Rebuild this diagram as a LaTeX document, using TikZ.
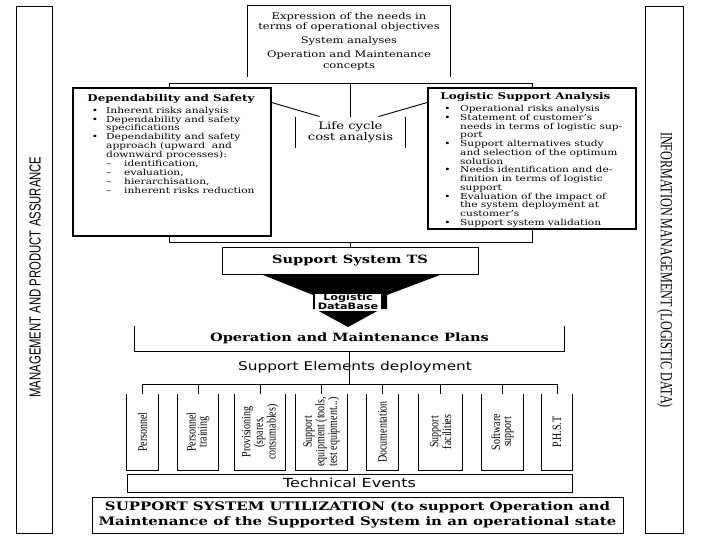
\documentclass[tikz,border=0pt]{standalone}
\usepackage{fontspec}
\setmainfont{DejaVu Serif}[FakeStretch=1.28]
\newfontfamily\mgmtfont{Liberation Sans}[FakeStretch=0.708]
\newfontfamily\infofont{Liberation Serif}[FakeStretch=0.716]
\newfontfamily\elemfont{Liberation Serif}[FakeStretch=0.78]
\newfontfamily\deplfont{DejaVu Sans}[FakeStretch=1.28]

\begin{document}
\begin{tikzpicture}[x=1pt,y=-1pt,line width=0.9pt,
    box/.style={draw,inner sep=0pt,fill=white},
    open/.style={inner sep=0pt},
    elem/.style={inner sep=0pt,minimum height=76pt},
    elem text/.style={rotate=90,align=center,inner sep=0pt,font=\elemfont\fontsize{12.8}{11}\selectfont},
    head/.style={font=\bfseries\fontsize{11.4}{13}\selectfont},
    list/.style={anchor=north west,inner sep=0pt,font=\fontsize{8.3}{8.8}\selectfont},
    list title/.style={anchor=west,inner sep=0pt,font=\bfseries\fontsize{9.3}{10}\selectfont}]

    \useasboundingbox (0,0) rectangle (720,540);

    % side bars
    \node[box,minimum width=36,minimum height=527] (mgmt) at (34,269.5) {};
    \node[rotate=90,inner sep=0pt,font=\mgmtfont\fontsize{16}{16}\selectfont] (mgmtlbl) at (35,277) {MANAGEMENT AND PRODUCT ASSURANCE};
    \node[box,minimum width=38,minimum height=527] (info) at (664,269.5) {};
    \node[rotate=-90,inner sep=0pt,font=\infofont\fontsize{17}{17}\selectfont] (infolbl) at (665,270) {INFORMATION MANAGEMENT (LOGISTIC DATA)};

    % needs, open at the bottom
    \node[open,minimum width=202,minimum height=71,align=center,font=\fontsize{9}{10.5}\selectfont] (needs) at (349,41.5)
        {Expression of the needs in\\terms of operational objectives\\[3.5pt]System analyses\\[3.5pt]Operation and Maintenance\\concepts};
    \draw (needs.south west) |- (needs.north east) -- (needs.south east);

    \node[box,minimum width=363,minimum height=159] (core) at (350.5,162.5) {};
    \node[box,minimum width=198,minimum height=148,line width=1.1pt] (dep) at (172,162) {};
    \node[box,minimum width=208,minimum height=141,line width=1.1pt] (lsa) at (532,158.5) {};

    \node[list title] (deptitle) at (87,99) {Dependability and Safety};
    \node[list] (deplist) at (91.5,106.3) {\begin{tabular}{@{}c@{\hspace{8pt}}l@{}}
        \textbullet & Inherent risks analysis\\
        \textbullet & Dependability and safety\\
                    & specifications\\
        \textbullet & Dependability and safety\\
                    & approach (upward\ \ and\\
                    & downward processes):\\
                    & \makebox[18pt][l]{--}identification,\\
                    & \makebox[18pt][l]{--}evaluation,\\
                    & \makebox[18pt][l]{--}hierarchisation,\\
                    & \makebox[18pt][l]{--}inherent risks reduction
        \end{tabular}};

    \node[list title] (lsatitle) at (440,97) {Logistic Support Analysis};
    \node[list,font=\fontsize{8.3}{8.46}\selectfont] (lsalist) at (444,104.6) {\begin{tabular}{@{}c@{\hspace{9.5pt}}l@{}}
        \textbullet & Operational risks analysis\\
        \textbullet & Statement of customer's\\
                    & needs in terms of logistic sup-\\
                    & port\\
        \textbullet & Support alternatives study\\
                    & and selection of the optimum\\
                    & solution\\
        \textbullet & Needs identification and de-\\
                    & finition in terms of logistic\\
                    & support\\
        \textbullet & Evaluation of the impact of\\
                    & the system deployment at\\
                    & customer's\\
        \textbullet & Support system validation
        \end{tabular}};

    % life cycle cost
    \node[open,minimum width=109,minimum height=31,align=center,font=\fontsize{10.3}{10}\selectfont] (lcc) at (350.5,132.5) {Life cycle\\cost analysis};
    \draw (lcc.north west) -- (lcc.south west);
    \draw (lcc.north east) -- (lcc.south east);
    \draw (lcc.north |- core.north) -- (lcc.north);
    \draw ([yshift=-15pt]dep.north east) -- ([xshift=24pt]lcc.north west);
    \draw ([yshift=-15pt]lsa.north west) -- ([xshift=-27pt]lcc.north east);

    \node[box,minimum width=256,minimum height=27,head] (ts) at (350,260.5) {Support System TS};
    \draw (ts.north |- core.south) -- (ts.north);

    % funnel
    \fill (263,275) -- (440,275) -- (387,295) -- (387,309) -- (381,309) -- (348,327)
        -- (315,309) -- (313,309) -- (313,295) -- cycle;
    \node[fill=white,inner sep=0pt,minimum width=66,minimum height=17,align=center,
        font=\deplfont\bfseries\fontsize{8.8}{8.6}\selectfont] (ldb) at (348,302) {Logistic\\DataBase};

    \node[open,minimum width=429,minimum height=25,head] (om) at (349.5,338.5) {Operation and Maintenance Plans};
    \draw (om.north west) |- (om.south east) -- (om.north east);

    \node[inner sep=0pt,font=\deplfont\fontsize{12}{12}\selectfont] (sed) at (355,367) {Support Elements deployment};
    \coordinate (bus) at (349.5,384);
    \draw (om.south) -- (bus);

    \foreach \i/\x/\w/\txt in {1/142.5/31/{Personnel}, 2/198/40/{Personnel\\training},
        3/260/50/{Provisioning\\(spares,\\consumables)}, 4/321.5/51/{Support\\equipment (tools,\\test equipment...)},
        5/382.5/31/{Documentation}, 6/440.5/43/{Support\\facilities}, 7/502.5/41/{Software\\support}, 8/557/30/{P.H.S.T}}
    {
        \node[elem,minimum width=\w] (e\i) at (\x,432) {};
        \draw (e\i.north west) |- (e\i.south east) -- (e\i.north east);
        \node[elem text] (t\i) at (e\i) {\txt};
        \draw (bus -| e\i.north) -- (e\i.north);
    }
    \draw (bus -| e1.north) -- (bus -| e8.north);

    \node[box,minimum width=445,minimum height=18,font=\deplfont\fontsize{12.5}{12}\selectfont] (tev) at (349.5,483) {Technical Events};
    \node[box,minimum width=531,minimum height=36,align=center,font=\bfseries\fontsize{11.7}{15}\selectfont] (use) at (357.5,515)
        {SUPPORT SYSTEM UTILIZATION (to support Operation and\\Maintenance of the Supported System in an operational state};
\end{tikzpicture}
\end{document}
